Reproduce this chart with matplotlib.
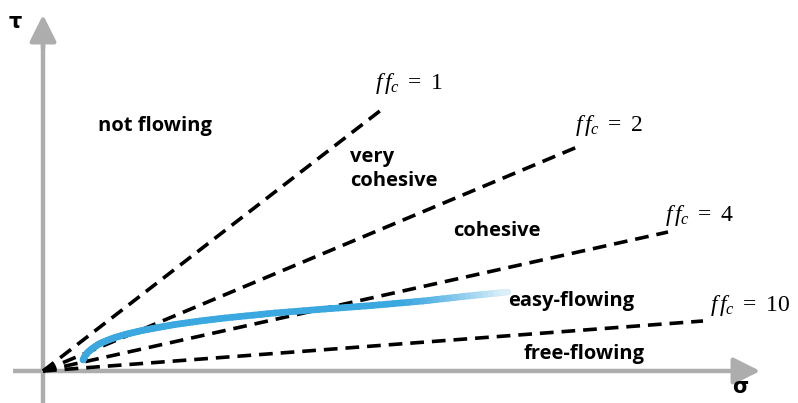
import numpy as np
import matplotlib.pyplot as plt
from matplotlib.collections import LineCollection
from matplotlib.colors import to_rgb

plt.rcParams["mathtext.fontset"] = "custom"
plt.rcParams["mathtext.rm"] = "Liberation Serif"
plt.rcParams["mathtext.it"] = "Liberation Serif:italic"

# flow-function lines: end point of each dashed line (sigma, tau) from the origin
ffc_values = [1, 2, 4, 10]
ffc_sigma_end = [342, 539, 625, 660]
ffc_tau_end = [264, 226, 139, 50]
ffc_label_pos = [(332, 288), (532, 246), (622, 156), (667, 66)]

# yield locus sketch (sigma, tau)
locus_sigma = [40, 42, 45, 50, 56, 64, 72, 84, 99, 115, 132, 157, 182, 232, 282, 329, 380, 425, 465]
locus_tau = [11, 15, 19, 23, 27, 30.5, 33.5, 37, 40.5, 43.5, 46.5, 50, 53, 58, 62, 65.5, 70, 75, 79]

# region names and their anchor positions
regions = ["not flowing", "very\ncohesive", "cohesive", "easy-flowing", "free-flowing"]
region_pos = [(55, 245), (307, 202), (410, 140), (465, 70), (481, 17)]

axis_grey = "#ADADAD"
locus_blue = "#3CA8E0"

fig = plt.figure(figsize=(7.98, 4.03), dpi=100)
ax = fig.add_axes([0, 0, 1, 1])
ax.set_xlim(-43, 755)
ax.set_ylim(-32, 371)
ax.axis("off")

# axes with arrow heads
ax.plot([-30, 700], [0, 0], color=axis_grey, lw=3.2, solid_capstyle="butt", zorder=1)
ax.plot([0, 0], [-40, 330], color=axis_grey, lw=3.2, solid_capstyle="butt", zorder=1)
ax.annotate("", xy=(720, 0), xytext=(690, 0),
            arrowprops=dict(arrowstyle="-|>,head_length=0.9,head_width=0.45",
                            color=axis_grey, lw=3.2, mutation_scale=18))
ax.annotate("", xy=(0, 359), xytext=(0, 320),
            arrowprops=dict(arrowstyle="-|>,head_length=0.9,head_width=0.45",
                            color=axis_grey, lw=3.2, mutation_scale=18))
ax.text(-28, 349, "τ", fontsize=15, fontweight="bold", ha="center", va="center")
ax.text(697, -16, "σ", fontsize=15, fontweight="bold", ha="center", va="center")

# dashed ffc lines
for ffc, xs, ys, (lx, ly) in zip(ffc_values, ffc_sigma_end, ffc_tau_end, ffc_label_pos):
    ax.plot([0, xs], [0, ys], color="black", lw=2.6, dashes=(3.8, 2.2), zorder=2)
    ax.text(lx, ly, r"$f\,f_c\ =\ %d$" % ffc, fontsize=17, ha="left", va="center")

# yield locus, fading out towards its end
xs = np.array(locus_sigma, dtype=float)
ys = np.array(locus_tau, dtype=float)
sub = np.linspace(0, 1, 8)[:-1]
px = np.concatenate([x0 + (x1 - x0) * sub for x0, x1 in zip(xs[:-1], xs[1:])] + [xs[-1:]])
py = np.concatenate([y0 + (y1 - y0) * sub for y0, y1 in zip(ys[:-1], ys[1:])] + [ys[-1:]])
pts = np.column_stack([px, py]).reshape(-1, 1, 2)
segs = np.concatenate([pts[:-1], pts[1:]], axis=1)
mid = 0.5 * (px[:-1] + px[1:])
fade = np.clip((mid - 360) / (465 - 360), 0, 1) ** 1.3 * 0.85
base = np.array(to_rgb(locus_blue))
cols = [base * (1 - f) + np.ones(3) * f for f in fade]
lc = LineCollection(segs, colors=cols, linewidths=4.8, capstyle="round",
                    joinstyle="round", zorder=3)
ax.add_collection(lc)

for name, (rx, ry) in zip(regions, region_pos):
    ax.text(rx, ry, name, fontsize=14.5, fontweight="bold", family="Open Sans",
            ha="left", va="center", linespacing=1.3)

fig.savefig("out.png", dpi=100)
